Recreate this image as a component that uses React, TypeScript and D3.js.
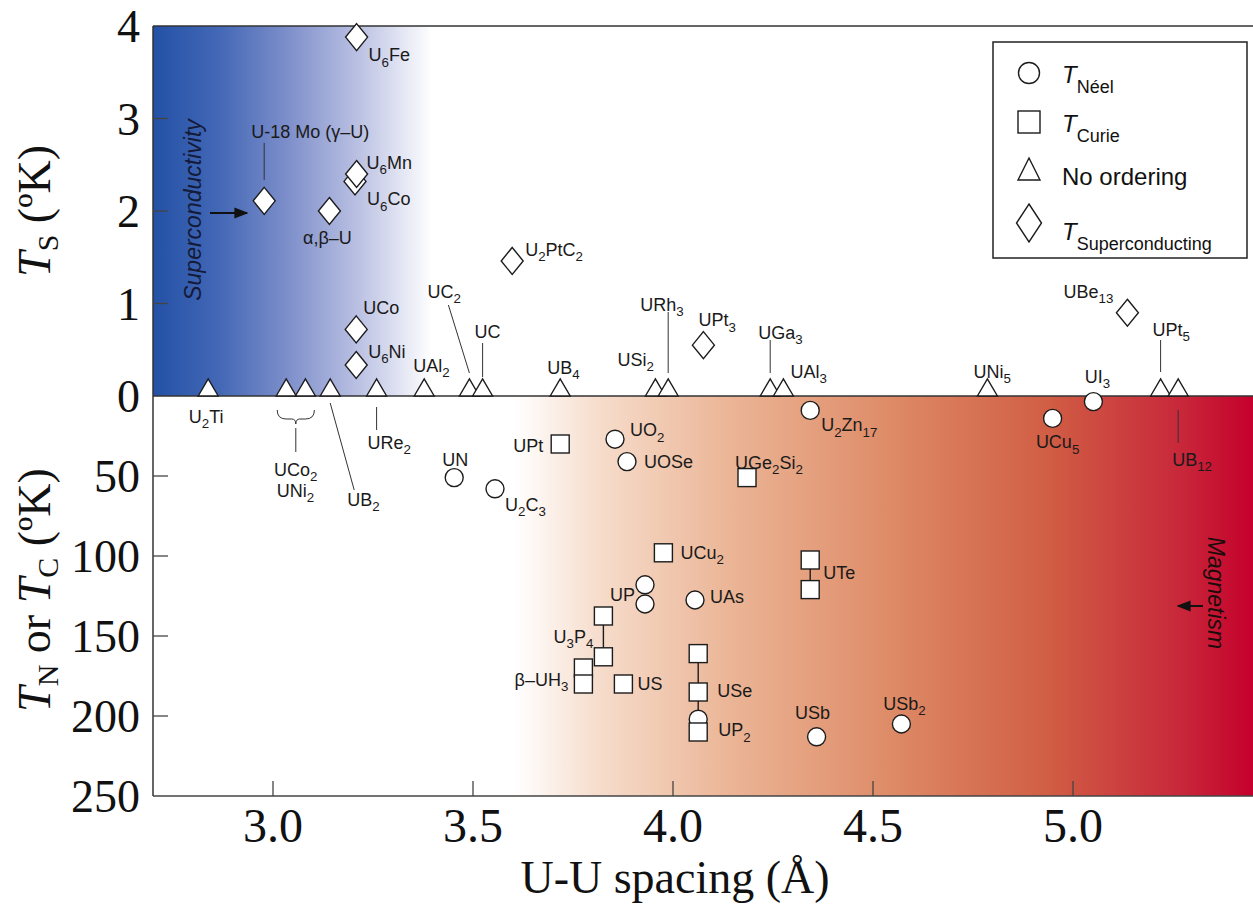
import React from "react";
import * as d3 from "d3";

const W = 1253;
const H = 911;

const X_DOMAIN = [2.7, 5.45];
const TS_DOMAIN = [0, 4];
const TN_DOMAIN = [0, 250];
const X_TICKS = [3.0, 3.5, 4.0, 4.5, 5.0];
const TS_TICKS = [0, 1, 2, 3, 4];
const TN_TICKS = [50, 100, 150, 200, 250];

// [compound, U-U spacing (Å), T_S (K)]
const superconducting: [string, number, number][] = [
  ["U{6}Fe", 3.209, 3.88],
  ["U-18 Mo (γ–U)", 2.978, 2.11],
  ["α,β–U", 3.141, 2.0],
  ["U{6}Co", 3.205, 2.32],
  ["U{6}Mn", 3.209, 2.4],
  ["UCo", 3.208, 0.72],
  ["U{6}Ni", 3.208, 0.335],
  ["U{2}PtC{2}", 3.598, 1.46],
  ["UPt{3}", 4.076, 0.55],
  ["UBe{13}", 5.136, 0.9],
];

// [compound, U-U spacing (Å)] — no ordering (T = 0)
const noOrdering: [string, number][] = [
  ["U{2}Ti", 2.838],
  ["UCo{2}", 3.033],
  ["UNi{2}", 3.081],
  ["UB{2}", 3.143],
  ["URe{2}", 3.259],
  ["UAl{2}", 3.378],
  ["UC{2}", 3.491],
  ["UC", 3.524],
  ["UB{4}", 3.718],
  ["USi{2}", 3.956],
  ["URh{3}", 3.988],
  ["UGa{3}", 4.243],
  ["UAl{3}", 4.276],
  ["UNi{5}", 4.786],
  ["UPt{5}", 5.219],
  ["UB{12}", 5.263],
];

// [compound, U-U spacing (Å), T_Néel (K)]
const neel: [string, number, number][] = [
  ["UN", 3.453, 51],
  ["U{2}C{3}", 3.555, 58],
  ["UO{2}", 3.855, 27],
  ["UOSe", 3.885, 41],
  ["U{2}Zn{17}", 4.343, 9],
  ["UCu{5}", 4.949, 14],
  ["UI{3}", 5.051, 3.5],
  ["UP", 3.93, 118],
  ["UP", 3.93, 130],
  ["UAs", 4.055, 127.5],
  ["UP{2}", 4.063, 202],
  ["USb", 4.359, 213],
  ["USb{2}", 4.571, 205],
];

// [compound, U-U spacing (Å), T_Curie (K)]
const curie: [string, number, number][] = [
  ["UPt", 3.718, 30],
  ["UGe{2}Si{2}", 4.185, 51],
  ["UCu{2}", 3.976, 98],
  ["UTe", 4.343, 102.5],
  ["UTe", 4.343, 121],
  ["U{3}P{4}", 3.826, 137.5],
  ["U{3}P{4}", 3.826, 163],
  ["β–UH{3}", 3.776, 170],
  ["β–UH{3}", 3.776, 180],
  ["US", 3.876, 180],
  ["USe", 4.063, 161],
  ["USe", 4.063, 185],
  ["UP{2}", 4.063, 210],
];

const connectorGroups = [["U{3}P{4}"], ["UTe"], ["USe", "UP{2}"]];

// label layout relative to mark: dx, dy, anchor, optional leader [x1,y1,x2,y2]
type Lay = { dx: number; dy: number; a: "start" | "middle" | "end"; lead?: number[] };
const layout: Record<string, Lay> = {
  "U{6}Fe": { dx: 12, dy: 24, a: "start" },
  "U-18 Mo (γ–U)": { dx: 46, dy: -63, a: "middle", lead: [0, -58, 0, -21] },
  "U{6}Mn": { dx: 10, dy: -5, a: "start" },
  "U{6}Co": { dx: 12, dy: 24, a: "start" },
  "α,β–U": { dx: -2, dy: 33, a: "middle" },
  UCo: { dx: 7, dy: -15, a: "start" },
  "U{6}Ni": { dx: 12, dy: -7, a: "start" },
  "U{2}PtC{2}": { dx: 13, dy: -5, a: "start" },
  "UPt{3}": { dx: -5, dy: -19, a: "start" },
  "UBe{13}": { dx: -14, dy: -15, a: "end" },
  "U{2}Ti": { dx: -2, dy: 27, a: "middle" },
  "UCo{2}": { dx: 9.5, dy: 80, a: "middle" },
  "UNi{2}": { dx: -10, dy: 101, a: "middle" },
  "UB{2}": { dx: 17, dy: 110, a: "start", lead: [0, 7, 24, 94] },
  "URe{2}": { dx: -9, dy: 53, a: "start", lead: [0, 11, 0, 34] },
  "UAl{2}": { dx: -11, dy: -24, a: "start" },
  "UC{2}": { dx: -42, dy: -98, a: "start", lead: [-21, -91, 0, -23] },
  UC: { dx: 5, dy: -58, a: "middle", lead: [0, -53, 0, -19] },
  "UB{4}": { dx: -13, dy: -22, a: "start" },
  "USi{2}": { dx: -38, dy: -30, a: "start" },
  "URh{3}": { dx: -28, dy: -85, a: "start", lead: [0, -84, 0, -23] },
  "UGa{3}": { dx: -12, dy: -57, a: "start", lead: [0, -56, 0, -23] },
  "UAl{3}": { dx: 7, dy: -18, a: "start" },
  "UNi{5}": { dx: -14, dy: -18, a: "start" },
  "UPt{5}": { dx: -8, dy: -60, a: "start", lead: [0, -56, 0, -24] },
  "UB{12}": { dx: -6, dy: 70, a: "start", lead: [0, 14, 0, 47] },
  UN: { dx: 1, dy: -12, a: "middle" },
  "U{2}C{3}": { dx: 10, dy: 22, a: "start" },
  "UO{2}": { dx: 15, dy: -3, a: "start" },
  UOSe: { dx: 17, dy: 6, a: "start" },
  "U{2}Zn{17}": { dx: 11, dy: 21, a: "start" },
  "UCu{5}": { dx: 5, dy: 30, a: "middle" },
  "UI{3}": { dx: 4, dy: -19, a: "middle" },
  UP: { dx: -10, dy: 16, a: "end" },
  UAs: { dx: 15, dy: 3, a: "start" },
  "UP{2}": { dx: 20, dy: 17, a: "start" },
  USb: { dx: -4, dy: -18, a: "middle" },
  "USb{2}": { dx: 3, dy: -14, a: "middle" },
  UPt: { dx: -17, dy: 8, a: "end" },
  "UGe{2}Si{2}": { dx: -12, dy: -9, a: "start" },
  "UCu{2}": { dx: 17, dy: 6, a: "start" },
  UTe: { dx: 13, dy: 19, a: "start" },
  "U{3}P{4}": { dx: -10, dy: 27, a: "end" },
  "β–UH{3}": { dx: -15, dy: 18, a: "end" },
  US: { dx: 14, dy: 6, a: "start" },
  USe: { dx: 19, dy: 43, a: "start" },
};

const SANS = "'Liberation Sans', Arial, sans-serif";
const SERIF = "'Liberation Serif', 'Times New Roman', serif";

const LEFT = 153;
const RIGHT = 1253;
const TOP = 26;
const ZERO = 396;
const BOTTOM = 796;

const x = d3.scaleLinear().domain(X_DOMAIN).range([LEFT, RIGHT]);
const yS = d3.scaleLinear().domain(TS_DOMAIN).range([ZERO, TOP]);
const yN = d3.scaleLinear().domain(TN_DOMAIN).range([ZERO, BOTTOM]);

function Formula({ x: tx, y: ty, text, anchor = "start", size = 18, fill = "#1a1a1a" }: any) {
  const parts = text.split(/(\{[^}]*\})/).filter((p: string) => p.length);
  let sub = false;
  const sh = size * 0.3;
  return (
    <text x={tx} y={ty} textAnchor={anchor} fontFamily={SANS} fontSize={size} fill={fill}>
      {parts.map((p: string, i: number) => {
        const isSub = p.startsWith("{");
        let dy = 0;
        if (isSub && !sub) dy = sh;
        if (!isSub && sub) dy = -sh;
        sub = isSub;
        return (
          <tspan key={i} dy={dy} fontSize={isSub ? size * 0.74 : size}>
            {isSub ? p.slice(1, -1) : p}
          </tspan>
        );
      })}
    </text>
  );
}

const STROKE = "#1c1c1c";
const MARK_FILL = "#ffffff";

function circlePath(r: number) {
  return d3.symbol().type(d3.symbolCircle).size(Math.PI * r * r)();
}

export default function App() {
  const labelled = new Set<string>();
  const labels: any[] = [];
  const leaders: any[] = [];

  const addLabel = (name: string, px: number, py: number) => {
    if (labelled.has(name)) return;
    labelled.add(name);
    const l = layout[name];
    if (!l) return;
    labels.push(<Formula key={"l" + name} x={px + l.dx} y={py + l.dy} text={name} anchor={l.a} />);
    if (l.lead)
      leaders.push(
        <line key={"ld" + name} x1={px + l.lead[0]} y1={py + l.lead[1]} x2={px + l.lead[2]} y2={py + l.lead[3]} stroke="#333" strokeWidth={1} />
      );
  };

  neel.forEach(([n, s, t]) => addLabel(n, x(s), yN(t)));
  curie.forEach(([n, s, t]) => addLabel(n, x(s), yN(t)));
  noOrdering.forEach(([n, s]) => addLabel(n, x(s), yS(0)));
  superconducting.forEach(([n, s, t]) => addLabel(n, x(s), yS(t)));

  const connectors = connectorGroups.map((g, i) => {
    const pts = [...neel, ...curie].filter((d) => g.includes(d[0]));
    const ys = pts.map((d) => yN(d[2]));
    const cx = x(pts[0][1]);
    return <line key={"c" + i} x1={cx} x2={cx} y1={d3.min(ys)} y2={d3.max(ys)} stroke={STROKE} strokeWidth={1.4} />;
  });

  // brace for UCo2 / UNi2
  const bx1 = x(noOrdering[1][1]) - 9;
  const bx2 = x(noOrdering[2][1]) + 9;
  const bm = (bx1 + bx2) / 2;
  const by = ZERO + 14;
  const brace = `M${bx1},${by} Q${bx1},${by + 9} ${bx1 + 9},${by + 9} L${bm - 4},${by + 9} Q${bm},${by + 9} ${bm},${by + 14} Q${bm},${by + 9} ${bm + 4},${by + 9} L${bx2 - 9},${by + 9} Q${bx2},${by + 9} ${bx2},${by}`;

  const tri = (cx: number, base: number, w: number, h: number) =>
    `M${cx - w / 2},${base} L${cx},${base - h} L${cx + w / 2},${base} Z`;
  const dia = (cx: number, cy: number, w: number, h: number) =>
    `M${cx},${cy - h / 2} L${cx + w / 2},${cy} L${cx},${cy + h / 2} L${cx - w / 2},${cy} Z`;

  const pw = RIGHT - LEFT;
  const off = (px: number) => `${((px - LEFT) / pw) * 100}%`;

  return (
    <svg width={W} height={H} style={{ position: "absolute", left: 0, top: 0, background: "#fff" }}>
      <defs>
        <linearGradient id="blueGrad" x1="0" x2="1" y1="0" y2="0">
          <stop offset="0%" stopColor="#2351a6" />
          <stop offset={off(220)} stopColor="#4468b6" />
          <stop offset={off(290)} stopColor="#7f90cb" />
          <stop offset={off(360)} stopColor="#bcc2e3" />
          <stop offset={off(432)} stopColor="#ffffff" />
          <stop offset="100%" stopColor="#ffffff" />
        </linearGradient>
        <linearGradient id="redGrad" x1="0" x2="1" y1="0" y2="0">
          <stop offset="0%" stopColor="#ffffff" />
          <stop offset={off(515)} stopColor="#ffffff" />
          <stop offset={off(600)} stopColor="#f6dccb" />
          <stop offset={off(730)} stopColor="#ebb596" />
          <stop offset={off(890)} stopColor="#de8b67" />
          <stop offset={off(1050)} stopColor="#d05d44" />
          <stop offset={off(1180)} stopColor="#c8283a" />
          <stop offset="100%" stopColor="#c5002c" />
        </linearGradient>
        <marker id="ah" viewBox="0 0 10 10" refX="9" refY="5" markerWidth="7" markerHeight="7" orient="auto">
          <path d="M0,1 L10,5 L0,9 Z" fill="#111" />
        </marker>
      </defs>

      <rect x={LEFT} y={TOP} width={pw} height={ZERO - TOP} fill="url(#blueGrad)" />
      <rect x={LEFT} y={ZERO} width={pw} height={BOTTOM - ZERO} fill="url(#redGrad)" />

      {/* frame */}
      <line x1={LEFT} x2={RIGHT} y1={TOP} y2={TOP} stroke="#333" strokeWidth={1.5} />
      <line x1={LEFT} x2={RIGHT} y1={ZERO} y2={ZERO} stroke="#333" strokeWidth={1.5} />
      <line x1={LEFT} x2={RIGHT} y1={BOTTOM} y2={BOTTOM} stroke="#444" strokeWidth={1.5} />
      <line x1={LEFT} x2={LEFT} y1={TOP} y2={BOTTOM} stroke="#333" strokeWidth={1.5} />

      {/* ticks */}
      {X_TICKS.map((t) => (
        <g key={"xt" + t}>
          <line x1={x(t)} x2={x(t)} y1={BOTTOM} y2={BOTTOM - 15} stroke="#444" strokeWidth={1.3} />
          <text x={x(t)} y={842} textAnchor="middle" fontFamily={SERIF} fontSize={48} fill="#111">
            {d3.format(".1f")(t)}
          </text>
        </g>
      ))}
      {TS_TICKS.map((t) => (
        <g key={"ys" + t}>
          {t > 0 && t < 4 && <line x1={LEFT} x2={LEFT + 15} y1={yS(t)} y2={yS(t)} stroke="#444" strokeWidth={1.3} />}
          <text x={140} y={yS(t) + 16} textAnchor="end" fontFamily={SERIF} fontSize={46} fill="#111">
            {t}
          </text>
        </g>
      ))}
      {TN_TICKS.map((t) => (
        <g key={"yn" + t}>
          {t < 250 && <line x1={LEFT} x2={LEFT + 15} y1={yN(t)} y2={yN(t)} stroke="#444" strokeWidth={1.3} />}
          <text x={140} y={yN(t) + 16} textAnchor="end" fontFamily={SERIF} fontSize={46} fill="#111">
            {t}
          </text>
        </g>
      ))}

      {/* axis titles */}
      <text x={675} y={893} textAnchor="middle" fontFamily={SERIF} fontSize={46} fill="#111">
        U-U spacing (Å)
      </text>
      <text transform={`translate(50, ${(yS(4) + yS(0)) / 2}) rotate(-90)`} textAnchor="middle" fontFamily={SERIF} fontSize={46} fill="#111">
        <tspan fontStyle="italic">T</tspan>
        <tspan fontSize={30} dy={8}>S</tspan>
        <tspan dy={-8}> (ºK)</tspan>
      </text>
      <text transform={`translate(50, 590) rotate(-90)`} textAnchor="middle" fontFamily={SERIF} fontSize={46} fill="#111">
        <tspan fontStyle="italic">T</tspan>
        <tspan fontSize={30} dy={8}>N</tspan>
        <tspan dy={-8}> or </tspan>
        <tspan fontStyle="italic">T</tspan>
        <tspan fontSize={30} dy={8}>C</tspan>
        <tspan dy={-8}> (ºK)</tspan>
      </text>

      {/* region annotations */}
      <text transform={`translate(201, 210) rotate(-90)`} textAnchor="middle" fontFamily={SANS} fontStyle="italic" fontSize={23} fill="#141a38">
        Superconductivity
      </text>
      <line x1={210} x2={247} y1={213} y2={213} stroke="#111" strokeWidth={2} markerEnd="url(#ah)" />
      <text transform={`translate(1208, 593) rotate(90)`} textAnchor="middle" fontFamily={SANS} fontStyle="italic" fontSize={23} fill="#1d0c0c">
        Magnetism
      </text>
      <line x1={1203} x2={1178} y1={606} y2={606} stroke="#111" strokeWidth={2} markerEnd="url(#ah)" />

      {/* leaders and brace */}
      {leaders}
      <path d={brace} fill="none" stroke="#333" strokeWidth={1} />
      <line x1={bm} x2={bm} y1={by + 18} y2={by + 42} stroke="#333" strokeWidth={1} />
      {connectors}

      {/* marks */}
      {neel.map(([n, s, t], i) => (
        <path key={"n" + i} d={circlePath(9)!} transform={`translate(${x(s)},${yN(t)})`} fill={MARK_FILL} stroke={STROKE} strokeWidth={1.4} />
      ))}
      {curie.map(([n, s, t], i) => (
        <rect key={"cu" + i} x={x(s) - 9} y={yN(t) - 9} width={18} height={18} fill={MARK_FILL} stroke={STROKE} strokeWidth={1.4} />
      ))}
      {noOrdering.map(([n, s], i) => (
        <path key={"t" + i} d={tri(x(s), yS(0), 20, 17)} fill={MARK_FILL} stroke={STROKE} strokeWidth={1.4} strokeLinejoin="miter" />
      ))}
      {superconducting.map(([n, s, t], i) => (
        <path key={"d" + i} d={dia(x(s), yS(t), 22, 27)} fill={MARK_FILL} stroke={STROKE} strokeWidth={1.4} />
      ))}

      {labels}

      {/* legend */}
      <g>
        <rect x={993} y={42} width={254} height={216} fill="#fff" stroke="#222" strokeWidth={1.5} />
        <circle cx={1029} cy={73} r={10.5} fill="#fff" stroke={STROKE} strokeWidth={1.4} />
        <rect x={1018} y={111} width={22} height={22} fill="#fff" stroke={STROKE} strokeWidth={1.4} />
        <path d={tri(1029, 180, 22, 22)} fill="#fff" stroke={STROKE} strokeWidth={1.4} />
        <path d={dia(1029, 223, 25, 38)} fill="#fff" stroke={STROKE} strokeWidth={1.4} />
        <text x={1062} y={83} fontFamily={SANS} fontSize={24} fill="#111">
          <tspan fontStyle="italic">T</tspan>
          <tspan fontSize={18} dy={10}>Néel</tspan>
        </text>
        <text x={1062} y={132} fontFamily={SANS} fontSize={24} fill="#111">
          <tspan fontStyle="italic">T</tspan>
          <tspan fontSize={18} dy={10}>Curie</tspan>
        </text>
        <text x={1062} y={185} fontFamily={SANS} fontSize={24} fill="#111">
          No ordering
        </text>
        <text x={1062} y={240} fontFamily={SANS} fontSize={24} fill="#111">
          <tspan fontStyle="italic">T</tspan>
          <tspan fontSize={18} dy={10}>Superconducting</tspan>
        </text>
      </g>
    </svg>
  );
}
